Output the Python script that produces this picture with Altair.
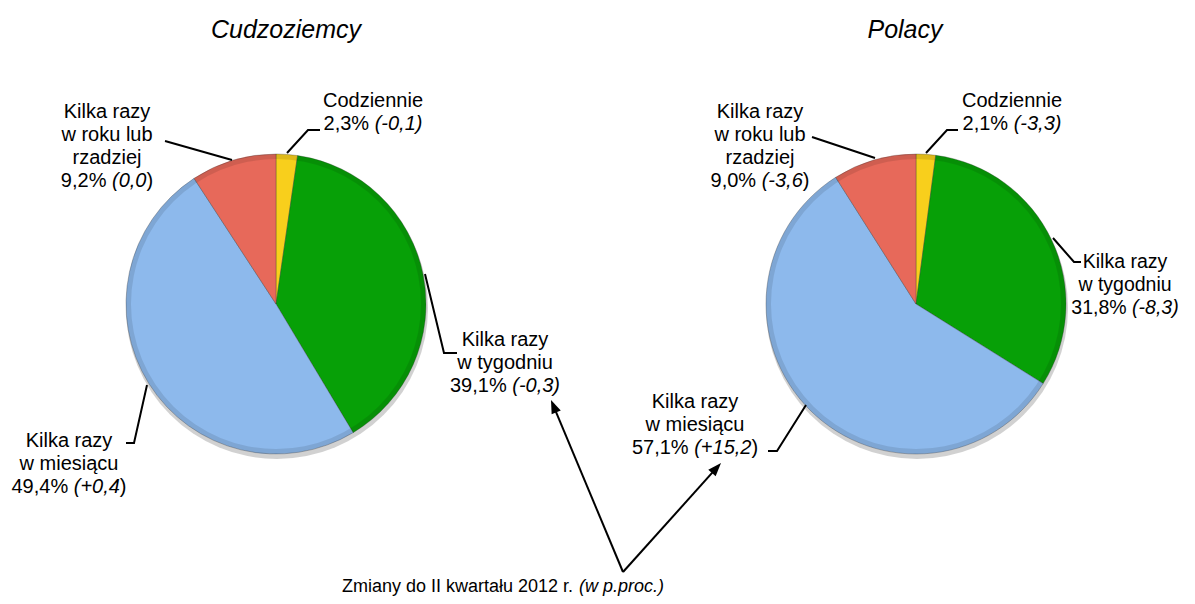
import math
import altair as alt
import pandas as pd

# ---------------- data ----------------
categories = ["Codziennie", "Kilka razy w tygodniu", "Kilka razy w miesiącu",
              "Kilka razy w roku lub rzadziej"]
label_lines = [["Codziennie"], ["Kilka razy", "w tygodniu"], ["Kilka razy", "w miesiącu"],
               ["Kilka razy", "w roku lub", "rzadziej"]]
colors = ["#F8CF1C", "#07A007", "#8DB9EC", "#E7695A"]
titles = ["Cudzoziemcy", "Polacy"]
cudz_values = [2.3, 39.1, 49.4, 9.2]
cudz_changes = ["-0,1", "-0,3", "+0,4", "0,0"]
pol_values = [2.1, 31.8, 57.1, 9.0]
pol_changes = ["-3,3", "-8,3", "+15,2", "-3,6"]
upright_close = [False, False, True, True]
note_text = "Zmiany do II kwartału 2012 r."
note_unit = "(w p.proc.)"

# ---------------- layout (page pixels) ----------------
OFF = 8
R = 150
FONT = "Liberation Sans, Arial, sans-serif"
FS = 20
LS = 23
pie_cx = [276, 916]
pie_cy = [304, 304]
title_x = [286, 905]
title_y = 38
label_pos = [
    [(373, 101), (505, 340), (69, 441), (107, 112)],
    [(1012, 101), (1125, 262), (695, 402), (760, 112)],
]
label_size = [[FS, FS, FS, FS], [FS, 19.5, FS, FS]]
leaders = [
    [(287, 153), (308, 130), (320, 130)],
    [(425, 274), (444, 353), (457, 353)],
    [(147, 385), (134, 443), (126, 443)],
    [(232, 160), (165, 141)],
    [(926, 153), (947, 130), (958, 130)],
    [(1053, 238), (1074, 262), (1081, 262)],
    [(806, 405), (777, 451), (768, 451)],
    [(875, 158), (812, 137)],
]
apex = (623, 572)
tips = [(551, 400), (721, 463)]
note_x = 342
note_y = 587
NOTE_FS = 18

# Arial / Liberation Sans advance widths (per 1000 em)
W = {" ": 278, "(": 333, ")": 333, "+": 584, ",": 278, "-": 333, ".": 278, "%": 889,
     "C": 722, "I": 278, "K": 667, "Z": 611, "P": 667,
     "a": 556, "b": 556, "c": 500, "d": 556, "e": 556, "g": 556, "i": 222, "j": 222,
     "k": 500, "l": 222, "m": 833, "n": 556, "o": 556, "p": 556, "r": 333, "s": 500,
     "t": 278, "u": 556, "w": 722, "y": 500, "z": 500, "ą": 556, "ł": 222}


def tw(s, size=FS):
    return sum(W.get(ch, 556) for ch in s) / 1000.0 * size


normal_rows, italic_rows = [], []
for p, (vals, chg) in enumerate([(cudz_values, cudz_changes), (pol_values, pol_changes)]):
    for i in range(len(categories)):
        cx, y0 = label_pos[p][i]
        fs = label_size[p][i]
        y = y0
        for ln in label_lines[i]:
            normal_rows.append({"x": cx - tw(ln, fs) / 2 - OFF, "y": y - OFF, "text": ln, "fs": fs})
            y += LS
        part1 = ("%.1f" % vals[i]).replace(".", ",") + "% "
        part2 = "(" + chg[i] + ("" if upright_close[i] else ")")
        part3 = ")" if upright_close[i] else ""
        total = tw(part1, fs) + tw(part2, fs) + tw(part3, fs)
        x = cx - total / 2
        normal_rows.append({"x": x - OFF, "y": y - OFF, "text": part1, "fs": fs})
        italic_rows.append({"x": x + tw(part1, fs) - OFF, "y": y - OFF, "text": part2, "fs": fs})
        if part3:
            normal_rows.append({"x": x + tw(part1, fs) + tw(part2, fs) - OFF, "y": y - OFF,
                                "text": part3, "fs": fs})

note_normal = [{"x": note_x - OFF, "y": note_y - OFF, "text": note_text}]
note_italic = [{"x": note_x + tw(note_text + " ", NOTE_FS) - OFF, "y": note_y - OFF, "text": note_unit}]

line_rows = []
for k, pts in enumerate(leaders):
    for s, (x, y) in enumerate(pts):
        line_rows.append({"id": "L%d" % k, "seq": s, "x": x - OFF, "y": y - OFF})
arrow_rows, head_rows = [], []
for k, (tx, ty) in enumerate(tips):
    dx, dy = tx - apex[0], ty - apex[1]
    d = math.hypot(dx, dy)
    ex, ey = tx - dx / d * 8, ty - dy / d * 8
    arrow_rows += [{"id": "A%d" % k, "seq": 0, "x": apex[0] - OFF, "y": apex[1] - OFF},
                   {"id": "A%d" % k, "seq": 1, "x": ex - OFF, "y": ey - OFF}]
    ang = math.degrees(math.atan2(dx, -dy)) % 360
    head_rows.append({"x": tx - OFF, "y": ty - OFF, "ang": ang})

X = lambda f: alt.X(f, type="quantitative", scale=None, axis=None)
Y = lambda f: alt.Y(f, type="quantitative", scale=None, axis=None)

layers = []
for p, vals in enumerate([cudz_values, pol_values]):
    cx, cy = pie_cx[p] - OFF, pie_cy[p] - OFF
    shadow = alt.Chart(pd.DataFrame({"v": [100]})).mark_arc(
        radius=R + 1, color="#9a9a9a", opacity=0.45).encode(
        theta=alt.Theta("v:Q"), x=alt.value(cx + 1), y=alt.value(cy + 4))
    df = pd.DataFrame({"cat": categories, "value": vals, "order": list(range(len(vals)))})
    pie = alt.Chart(df).mark_arc(radius=R, stroke="#333333", strokeWidth=0.7,
                                 strokeOpacity=0.45).encode(
        theta=alt.Theta("value:Q", stack=True),
        color=alt.Color("cat:N", scale=alt.Scale(domain=categories, range=colors), legend=None),
        order=alt.Order("order:Q"),
        x=alt.value(cx), y=alt.value(cy))
    rim = alt.Chart(pd.DataFrame({"v": [100]})).mark_arc(
        radius=R, radius2=R - 5, color="#000000", opacity=0.10).encode(
        theta=alt.Theta("v:Q"), x=alt.value(cx), y=alt.value(cy))
    layers += [shadow, pie, rim]

title_df = pd.DataFrame({"x": [t - OFF for t in title_x], "y": [title_y - OFF] * 2, "text": titles})
layers.append(alt.Chart(title_df).mark_text(
    align="center", baseline="alphabetic", font=FONT, fontSize=25, fontStyle="italic",
    color="black").encode(x=X("x"), y=Y("y"), text="text:N"))

layers.append(alt.Chart(pd.DataFrame(line_rows)).mark_line(color="black", strokeWidth=2).encode(
    x=X("x"), y=Y("y"), detail="id:N", order="seq:Q"))
layers.append(alt.Chart(pd.DataFrame(arrow_rows)).mark_line(color="black", strokeWidth=2).encode(
    x=X("x"), y=Y("y"), detail="id:N", order="seq:Q"))
layers.append(alt.Chart(pd.DataFrame(head_rows)).mark_point(
    shape="M0,0L-0.55,1.5L0.55,1.5Z", filled=True, size=324, color="black", opacity=1).encode(
    x=X("x"), y=Y("y"), angle=alt.Angle("ang:Q", scale=None)))

layers.append(alt.Chart(pd.DataFrame(normal_rows)).mark_text(
    align="left", baseline="middle", font=FONT, color="black").encode(
    x=X("x"), y=Y("y"), text="text:N", size=alt.Size("fs:Q", scale=None)))
layers.append(alt.Chart(pd.DataFrame(italic_rows)).mark_text(
    align="left", baseline="middle", font=FONT, fontStyle="italic", color="black").encode(
    x=X("x"), y=Y("y"), text="text:N", size=alt.Size("fs:Q", scale=None)))
layers.append(alt.Chart(pd.DataFrame(note_normal)).mark_text(
    align="left", baseline="middle", font=FONT, fontSize=NOTE_FS, color="black").encode(
    x=X("x"), y=Y("y"), text="text:N"))
layers.append(alt.Chart(pd.DataFrame(note_italic)).mark_text(
    align="left", baseline="middle", font=FONT, fontSize=NOTE_FS, fontStyle="italic", color="black").encode(
    x=X("x"), y=Y("y"), text="text:N"))

chart = alt.layer(*layers).resolve_scale(theta="independent", color="independent").properties(
    width=1195 - 2 * OFF, height=604 - 2 * OFF, padding=0, autosize="none",
    background="white").configure_view(stroke=None)

chart.save("out.html", embed_options={"renderer": "svg", "actions": False})
